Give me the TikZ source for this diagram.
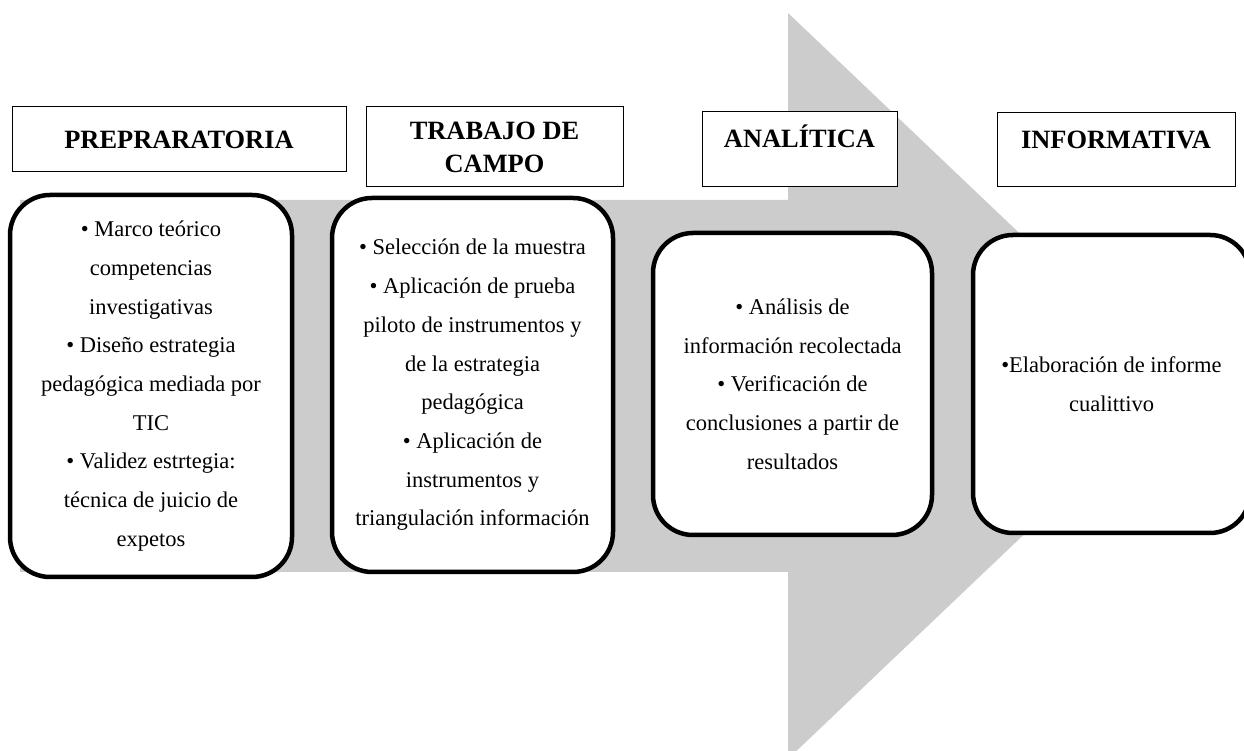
\documentclass[tikz,border=0pt]{standalone}
\usepackage{fontspec}
\setmainfont{Liberation Serif}
\usepackage{tikz}
\definecolor{Grisflecha}{RGB}{204, 204, 204}

\tikzset{
  fase/.style={draw, line width=1pt, fill=white, align=center, inner sep=0,
    font=\fontsize{26.4}{33}\selectfont\bfseries},
  actividad/.style={draw, line width=4.5pt, rounded corners=40pt, fill=white, align=center, inner sep=0,
    font=\fontsize{22.5}{38.7}\selectfont}
}

\begin{document}
\begin{tikzpicture}[x=1pt,y=1pt]
\useasboundingbox (0,0) rectangle (1244,751);
%flecha
\fill[Grisflecha] (20,551) -- (788,551) -- (788,738) -- (1180,365) -- (788,-8) -- (788,179) -- (20,179) -- cycle;
\node[fase, minimum width=334, minimum height=65] (prep) at (179,611.5) {PREPRARATORIA};
\node[fase, minimum width=257, minimum height=80] (campo) at (494.5,604) {TRABAJO DE\\CAMPO};
\node[fase, minimum width=195, minimum height=75, text height=18pt, text depth=21pt] (anal) at (799.5,601.5) {ANALÍTICA};
\node[fase, minimum width=238, minimum height=74, text height=18pt, text depth=21pt] (info) at (1116,601) {INFORMATIVA};
\node[actividad, minimum width=282, minimum height=382] (cprep) at (151,365) {• Marco teórico\\competencias\\investigativas\\• Diseño estrategia\\pedagógica mediada por\\TIC\\• Validez estrtegia:\\técnica de juicio de\\expetos};
\node[actividad, minimum width=281, minimum height=374] (ccampo) at (472.5,366) {• Selección de la muestra\\• Aplicación de prueba\\piloto de instrumentos y\\de la estrategia\\pedagógica\\• Aplicación de\\instrumentos y\\triangulación información};
\node[actividad, minimum width=279, minimum height=302] (canal) at (792.5,367) {• Análisis de\\información recolectada\\• Verificación de\\conclusiones a partir de\\resultados};
\node[actividad, minimum width=277, minimum height=298] (cinfo) at (1111.5,367) {•Elaboración de informe\\cualittivo};
\end{tikzpicture}
\end{document}
